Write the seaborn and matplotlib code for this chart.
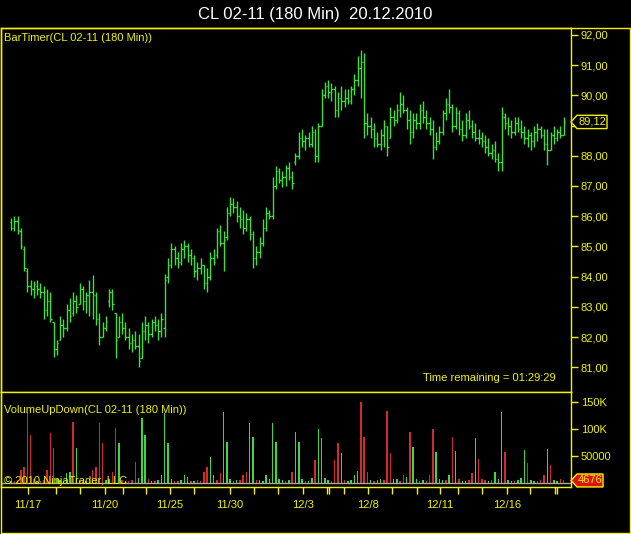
import matplotlib
matplotlib.use("Agg")
import matplotlib.pyplot as plt
import seaborn as sns
import pandas as pd
from matplotlib.patches import Polygon
from matplotlib.lines import Line2D
from matplotlib.transforms import blended_transform_factory

# 180 min bars of CL 02-11, 16.11.2010 - 20.12.2010
opens = [85.8, 85.6, 85.85, 85.5, 84.9, 84.2, 83.7, 83.6, 83.7, 83.6,
         83.5, 82.9, 83.2, 82.5, 81.6, 81.9, 82.4, 82.3, 82.9, 82.8,
         83.2, 83.1, 83.6, 83.2, 83.4, 83.5, 83.4, 82.6, 82.0, 82.3,
         83.2, 83.5, 82.8, 82.0, 82.5, 82.3, 82.0, 81.8, 81.9, 81.7,
         81.3, 82.2, 82.4, 82.1, 82.5, 82.4, 82.2, 82.3, 84.0, 84.4,
         84.9, 84.6, 84.5, 84.9, 85.0, 84.7, 84.6, 84.2, 84.3, 84.4,
         83.8, 84.0, 84.6, 84.7, 85.5, 85.1, 85.3, 86.1, 86.4, 86.3,
         86.0, 85.9, 85.6, 85.9, 85.4, 84.6, 84.8, 85.1, 85.6, 86.1,
         86.0, 87.0, 87.5, 87.2, 87.3, 87.6, 87.3, 87.8, 88.0, 88.6,
         88.5, 88.6, 88.4, 88.8, 88.0, 89.0, 90.0, 90.3, 90.1, 90.2,
         89.5, 89.9, 89.8, 89.9, 89.8, 90.2, 90.5, 90.9, 91.1, 89.1,
         89.0, 88.9, 88.6, 88.4, 88.7, 89.0, 88.6, 89.3, 89.2, 89.5,
         89.7, 89.5, 89.2, 88.8, 89.2, 89.1, 89.5, 89.3, 89.1, 88.9,
         88.3, 88.5, 88.8, 89.4, 89.7, 89.6, 89.0, 89.4, 88.9, 88.7,
         89.2, 89.0, 88.8, 88.6, 88.6, 88.5, 88.3, 88.1, 88.2, 87.9,
         87.8, 89.3, 89.1, 89.0, 88.8, 89.1, 88.9, 88.8, 88.6, 88.7,
         88.5, 88.8, 88.9, 88.7, 88.4, 88.2, 88.7, 88.6, 88.8, 88.7]
highs = [85.95, 86.0, 86.0, 85.6, 85.0, 84.3, 83.9, 83.85, 83.9, 83.8,
         83.7, 83.6, 83.5, 82.5, 81.9, 82.7, 82.6, 83.1, 83.3, 83.5,
         83.4, 83.8, 83.7, 83.5, 83.9, 84.05, 83.5, 82.8, 82.5, 82.7,
         83.6, 83.6, 82.8, 82.7, 82.8, 82.5, 82.3, 82.1, 82.2, 82.1,
         82.5, 82.7, 82.5, 82.6, 82.7, 82.6, 82.8, 84.1, 84.6, 85.1,
         85.0, 84.8, 85.1, 85.2, 85.1, 84.9, 84.7, 84.5, 84.6, 84.4,
         84.3, 84.8, 84.9, 85.6, 85.7, 85.5, 86.3, 86.65, 86.6, 86.5,
         86.3, 86.2, 86.1, 86.0, 85.5, 85.0, 85.3, 85.9, 86.3, 86.2,
         87.3, 87.65, 87.6, 87.5, 87.7, 87.8, 87.5, 88.1, 88.8, 88.9,
         88.7, 88.8, 89.0, 88.9, 89.1, 90.2, 90.45, 90.5, 90.4, 90.3,
         90.1, 90.3, 90.2, 90.2, 90.3, 90.7, 91.3, 91.5, 91.4, 89.4,
         89.3, 89.1, 88.8, 88.9, 89.2, 89.0, 89.6, 89.5, 89.7, 90.1,
         90.0, 89.6, 89.5, 89.4, 89.4, 89.7, 89.8, 89.5, 89.3, 89.2,
         88.8, 89.0, 89.5, 89.9, 90.2, 89.7, 89.6, 89.5, 89.2, 89.4,
         89.5, 89.2, 89.1, 88.9, 88.8, 88.7, 88.6, 88.4, 88.5, 88.1,
         89.6, 89.4, 89.3, 89.2, 89.3, 89.3, 89.2, 89.0, 88.9, 88.8,
         89.0, 89.1, 89.0, 88.9, 88.9, 88.8, 89.0, 88.9, 89.0, 89.3]
lows = [85.55, 85.5, 85.4, 84.9, 84.2, 83.5, 83.4, 83.3, 83.4, 83.3,
        82.6, 82.7, 82.5, 81.35, 81.4, 81.9, 82.0, 82.2, 82.5, 82.7,
        82.8, 83.1, 82.9, 82.8, 82.7, 82.6, 82.4, 81.75, 82.0, 82.2,
        83.0, 82.9, 81.3, 82.0, 82.1, 81.9, 81.6, 81.5, 81.6, 81.0,
        81.3, 81.9, 81.8, 82.0, 82.2, 81.9, 82.0, 82.0, 83.8, 84.3,
        84.4, 84.3, 84.4, 84.6, 84.5, 84.4, 84.0, 83.9, 84.1, 83.6,
        83.5, 83.9, 84.4, 84.6, 85.0, 84.2, 85.2, 86.0, 86.1, 85.8,
        85.6, 85.4, 85.5, 85.2, 84.3, 84.4, 84.6, 85.0, 85.5, 85.9,
        85.9, 86.9, 87.1, 86.95, 87.0, 87.2, 86.9, 87.7, 87.9, 88.3,
        88.2, 88.3, 88.3, 87.8, 87.8, 89.0, 89.9, 89.9, 89.8, 89.3,
        89.3, 89.5, 89.6, 89.7, 89.7, 90.0, 90.3, 89.9, 88.6, 88.7,
        88.6, 88.3, 88.3, 88.2, 88.3, 88.0, 88.6, 89.0, 89.1, 89.3,
        89.4, 88.9, 88.4, 88.6, 88.9, 88.9, 89.1, 88.9, 88.7, 87.9,
        88.2, 88.4, 88.7, 89.2, 89.4, 88.8, 88.9, 88.7, 88.5, 88.6,
        88.9, 88.6, 88.5, 88.4, 88.3, 88.1, 88.0, 87.9, 87.8, 87.5,
        87.5, 88.9, 88.7, 88.6, 88.7, 88.8, 88.6, 88.4, 88.3, 88.2,
        88.3, 88.5, 88.6, 88.2, 87.7, 88.2, 88.4, 88.5, 88.6, 88.7]
closes = [85.6, 85.85, 85.55, 85.0, 84.3, 83.7, 83.6, 83.75, 83.6, 83.5,
          82.9, 83.2, 82.6, 81.6, 81.8, 82.4, 82.3, 82.9, 82.7, 83.2,
          83.0, 83.6, 83.2, 83.4, 83.5, 83.4, 82.6, 82.0, 82.3, 82.5,
          83.5, 83.1, 81.9, 82.5, 82.3, 82.0, 81.8, 81.9, 81.7, 81.2,
          82.2, 82.4, 82.1, 82.5, 82.4, 82.2, 82.6, 83.9, 84.4, 84.9,
          84.6, 84.5, 84.9, 85.0, 84.7, 84.6, 84.2, 84.3, 84.4, 83.8,
          84.0, 84.6, 84.5, 85.5, 85.1, 85.2, 86.1, 86.4, 86.3, 86.0,
          85.9, 85.6, 85.9, 85.4, 84.6, 84.8, 85.1, 85.6, 86.1, 86.0,
          87.0, 87.5, 87.2, 87.3, 87.6, 87.3, 87.1, 88.0, 88.6, 88.5,
          88.6, 88.4, 88.8, 88.0, 89.0, 90.0, 90.3, 90.1, 90.2, 89.5,
          89.9, 89.8, 89.9, 89.8, 90.2, 90.5, 90.9, 91.1, 89.1, 89.0,
          88.9, 88.6, 88.4, 88.7, 89.0, 88.3, 89.3, 89.2, 89.5, 89.7,
          89.5, 89.2, 88.8, 89.2, 89.1, 89.5, 89.3, 89.1, 88.9, 88.3,
          88.5, 88.8, 89.4, 89.7, 89.6, 89.0, 89.4, 88.9, 88.7, 89.2,
          89.0, 88.8, 88.6, 88.6, 88.5, 88.3, 88.1, 88.2, 87.9, 87.8,
          89.4, 89.1, 89.0, 88.8, 89.1, 88.9, 88.8, 88.6, 88.7, 88.5,
          88.8, 88.9, 88.7, 88.4, 88.2, 88.7, 88.6, 88.8, 88.7, 89.12]

# volume in thousands, direction u = up bar, d = down bar
volume_k = [4, 3, 5, 25, 30, 131, 89, 8, 4, 3,
            6, 25, 92, 65, 7, 5, 4, 18, 20, 113,
            65, 6, 4, 3, 8, 25, 30, 111, 74, 5,
            8, 20, 102, 74, 6, 4, 3, 5, 39, 10,
            120, 89, 7, 4, 3, 5, 15, 130, 74, 8,
            4, 3, 6, 15, 12, 4, 3, 5, 4, 20,
            30, 48, 15, 6, 18, 131, 76, 8, 4, 5,
            6, 15, 20, 111, 85, 6, 5, 4, 15, 8,
            111, 76, 8, 5, 4, 6, 20, 94, 76, 8,
            4, 3, 10, 43, 100, 83, 10, 6, 4, 43,
            74, 56, 6, 4, 5, 15, 22, 150, 85, 20,
            5, 4, 6, 8, 5, 133, 56, 7, 8, 4,
            15, 12, 94, 67, 8, 4, 6, 3, 15, 100,
            57, 8, 5, 6, 15, 85, 59, 8, 4, 3,
            6, 18, 83, 44, 8, 5, 4, 6, 20, 8,
            131, 57, 6, 4, 3, 5, 10, 61, 37, 6,
            4, 3, 5, 15, 63, 33, 6, 4, 7, 4.676]
vol_dir = ("udddddddud" "dddduuuuud" "uududddddu" "uddududddu" "uududuuuuu"
           "dduuududdd" "duudduuudu" "ddduuduuuu" "uuuududuuu" "duuduuuudd"
           "duduuuuddd" "uduuddduud" "duduududdd" "uuudududuu" "dduddduduu"
           "uduuduuudu" "uddduduudd")

day_ticks = [5.2, 13.8, 21.1, 28.7, 34.3, 41.3, 48.6, 56.0, 67.0, 74.3, 81.7,
             89.3, 96.6, 97.2, 101.8, 109.2, 116.5, 124.2, 131.2, 136.7, 144.0,
             151.7, 158.7, 166.3, 166.9]
day_labels = {5.2: "11/17", 28.7: "11/20", 48.6: "11/25", 67.0: "11/30",
              89.3: "12/3", 109.2: "12/8", 131.2: "12/11", 151.7: "12/16"}
price_ticks = [81, 82, 83, 84, 85, 86, 87, 88, 89, 90, 91, 92]
vol_ticks = [50000, 100000, 150000]
vol_tick_labels = ["50000", "100K", "150K"]
last_price = 89.12
last_volume = 4676

n = len(closes)
assert len(opens) == n and len(highs) == n and len(lows) == n
assert len(volume_k) == n and len(vol_dir) == n

df = pd.DataFrame({
    "bar": range(n),
    "open": opens, "high": highs, "low": lows, "close": closes,
    "volume": [v * 1000 for v in volume_k],
    "dir": list(vol_dir),
})

YEL = "#f2f200"
GREEN = "#3ee03e"
VGREEN = "#3cd83c"
VRED = "#d42a2a"

sns.set_style("dark", rc={"axes.facecolor": "black", "figure.facecolor": "black"})
plt.rcParams["font.family"] = ["Liberation Sans", "DejaVu Sans"]

W, H = 631, 534
fig = plt.figure(figsize=(W / 100, H / 100), dpi=100, facecolor="black")


def box(x0, y0, x1, y1):
    # pixel box (top-left origin) -> figure fraction rect
    return [x0 / W, 1 - y1 / H, (x1 - x0) / W, (y1 - y0) / H]


ax_p = fig.add_axes(box(1, 28, 571, 392))
ax_v = fig.add_axes(box(1, 392, 571, 487))

x_lo, x_hi = -3.06, 171.25

# price bars (OHLC)
ax_p.vlines(df["bar"], df["low"], df["high"], color=GREEN, lw=1.0)
ax_p.hlines(df["open"], df["bar"] - 0.45, df["bar"], color=GREEN, lw=1.0)
ax_p.hlines(df["close"], df["bar"], df["bar"] + 0.45, color=GREEN, lw=1.0)
ax_p.set_xlim(x_lo, x_hi)
ax_p.set_ylim(80.18, 92.23)

# volume bars
sns.barplot(data=df, x="bar", y="volume", hue="dir",
            palette={"u": VGREEN, "d": VRED}, native_scale=True,
            width=0.45, dodge=False, legend=False, saturation=1,
            linewidth=0, ax=ax_v)
ax_v.axhline(0, color="#a8a8a8", lw=1.0, zorder=1)
ax_v.set_xlim(x_lo, x_hi)
ax_v.set_ylim(-7400, 168500)

for ax in (ax_p, ax_v):
    ax.set_facecolor("black")
    ax.grid(False)
    ax.set_xlabel("")
    ax.set_ylabel("")
    for s in ax.spines.values():
        s.set_visible(True)
        s.set_color(YEL)
        s.set_linewidth(1.0)
    ax.yaxis.tick_right()
    ax.tick_params(axis="y", colors=YEL, direction="out", length=5, width=1,
                   labelsize=8, pad=2, right=True, left=False)

ax_p.set_xticks([])
ax_p.set_yticks(price_ticks)
# the 89,00 label sits under the last-price marker, as in the original
ax_p.set_yticklabels(["" if p == 89 else f"{p:.2f}".replace(".", ",")
                      for p in price_ticks])

ax_v.set_yticks(vol_ticks)
ax_v.set_yticklabels(vol_tick_labels)
ax_v.set_xticks(day_ticks)
ax_v.set_xticklabels([day_labels.get(t, "") for t in day_ticks])
ax_v.tick_params(axis="x", colors=YEL, direction="out", length=5, width=1,
                 labelsize=8, pad=4, bottom=True)

# last value markers on the right axis
tp = blended_transform_factory(ax_p.transAxes, ax_p.transData)
dx = 1 / 570
hp = 0.22
ax_p.add_patch(Polygon([(1, last_price), (1 + 6 * dx, last_price + hp),
                        (1 + 36 * dx, last_price + hp), (1 + 36 * dx, last_price - hp),
                        (1 + 6 * dx, last_price - hp)], closed=True,
                       facecolor="black", edgecolor=YEL, lw=1, transform=tp,
                       clip_on=False, zorder=5))
ax_p.text(1 + 21 * dx, last_price, f"{last_price:.2f}".replace(".", ","),
          transform=tp, color=YEL, fontsize=8, ha="center", va="center",
          clip_on=False, zorder=6)

tv = blended_transform_factory(ax_v.transAxes, ax_v.transData)
hv = 12000
ax_v.add_patch(Polygon([(1, last_volume), (1 + 6 * dx, last_volume + hv),
                        (1 + 32 * dx, last_volume + hv), (1 + 32 * dx, last_volume - hv),
                        (1 + 6 * dx, last_volume - hv)], closed=True,
                       facecolor="#e01010", edgecolor=YEL, lw=1, transform=tv,
                       clip_on=False, zorder=5))
ax_v.text(1 + 19 * dx, last_volume, str(last_volume), transform=tv, color=YEL,
          fontsize=8, ha="center", va="center", clip_on=False, zorder=6)

# outer frame
for (x0, y0, x1, y1) in [(1, 28, 630, 28), (629.5, 28, 629.5, 533),
                         (1, 532.5, 630, 532.5), (1, 28, 1, 533)]:
    fig.add_artist(Line2D([x0 / W, x1 / W], [1 - y0 / H, 1 - y1 / H],
                          color=YEL, lw=1.0, transform=fig.transFigure))

fig.text(315 / W, 1 - 15 / H, "CL 02-11 (180 Min)  20.12.2010", color="white",
         fontsize=12, ha="center", va="center")
fig.text(4 / W, 1 - 38 / H, "BarTimer(CL 02-11 (180 Min))", color=YEL,
         fontsize=8, ha="left", va="center")
fig.text(556 / W, 1 - 378 / H, "Time remaining = 01:29:29", color=YEL,
         fontsize=8, ha="right", va="center")
fig.text(4 / W, 1 - 410 / H, "VolumeUpDown(CL 02-11 (180 Min))", color=YEL,
         fontsize=8, ha="left", va="center")
fig.text(4 / W, 1 - 481 / H, "\u00a9 2010 NinjaTrader, LLC", color=YEL,
         fontsize=8, ha="left", va="center")

fig.savefig("out.png", dpi=100, facecolor="black")
